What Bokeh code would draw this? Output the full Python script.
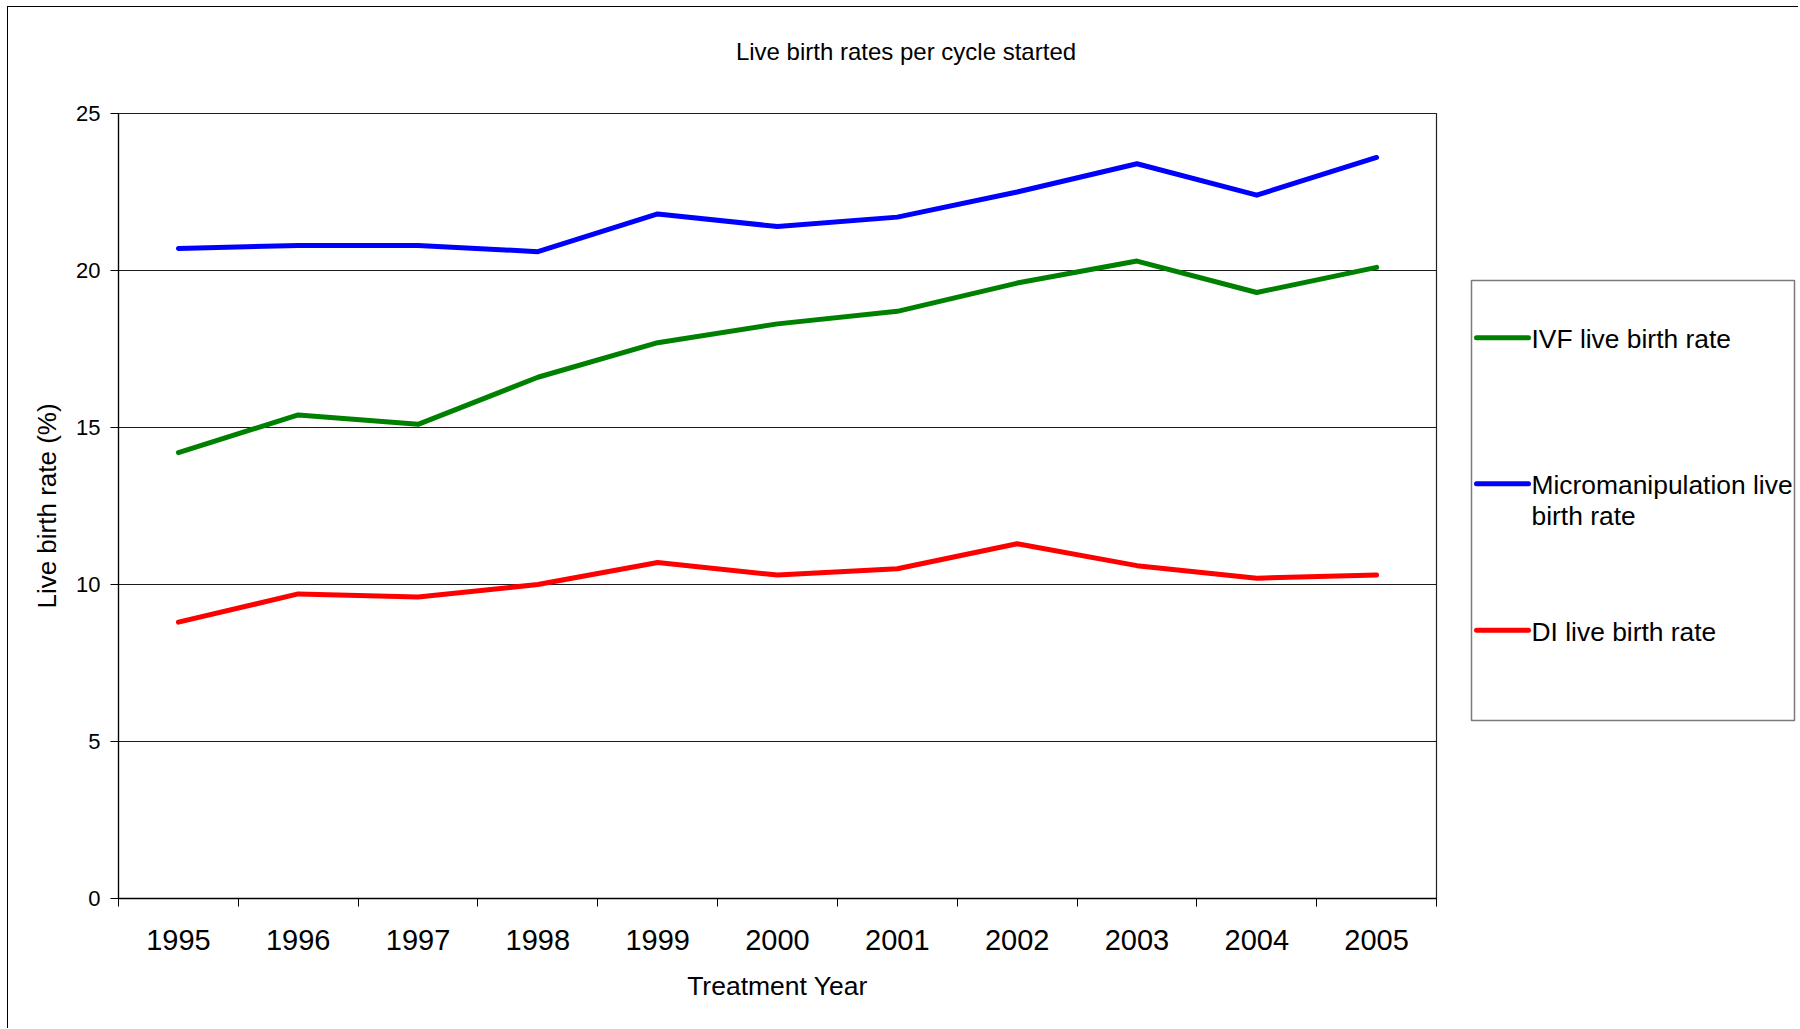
from bokeh.plotting import figure
from bokeh.layouts import row, column
from bokeh.models import Range1d, FixedTicker, Div
from bokeh.core.properties import value
from bokeh.embed import file_html
from bokeh.resources import INLINE

# ---- data ----
years = ["1995", "1996", "1997", "1998", "1999", "2000", "2001", "2002", "2003", "2004", "2005"]
ivf_rate = [14.2, 15.4, 15.1, 16.6, 17.7, 18.3, 18.7, 19.6, 20.3, 19.3, 20.1]
micro_rate = [20.7, 20.8, 20.8, 20.6, 21.8, 21.4, 21.7, 22.5, 23.4, 22.4, 23.6]
di_rate = [8.8, 9.7, 9.6, 10.0, 10.7, 10.3, 10.5, 11.3, 10.6, 10.2, 10.3]
series_names = ["IVF live birth rate", "Micromanipulation live birth rate", "DI live birth rate"]
legend_lines = [["IVF live birth rate"], ["Micromanipulation live", "birth rate"], ["DI live birth rate"]]
series_colors = ["#008000", "#0000FF", "#FF0000"]
y_ticks = [0, 5, 10, 15, 20, 25]
title_text = "Live birth rates per cycle started"
x_label = "Treatment Year"
y_label = "Live birth rate (%)"

FONT = "Liberation Sans"
TITLE_H = 90
H = 931
W1, W2 = 1450, 340
ML, MR, MT = 110, 22, 16
FRAME_H = 785
MB = H - MT - FRAME_H
LW = 5

# ---- title (spans the whole chart area) ----
title_div = Div(
    text=(f'<div style="font-family:\'{FONT}\',Arial,sans-serif; font-size:24px; line-height:28px; '
          f'color:#000; text-align:center; width:{W1 + W2}px; padding-top:31px; padding-left:6px; '
          f'box-sizing:border-box;">{title_text}</div>'),
    width=W1 + W2, height=TITLE_H, margin=0)

# ---- main plot ----
p = figure(width=W1, height=H, output_backend="svg", toolbar_location=None,
           x_range=Range1d(0, len(years)), y_range=Range1d(y_ticks[0], y_ticks[-1]),
           min_border_left=ML, min_border_right=MR, min_border_top=MT, min_border_bottom=MB,
           margin=0)
p.frame_align = False
p.background_fill_color = "white"
p.border_fill_color = "white"
p.outline_line_color = "#202020"
p.outline_line_width = 1.2

xs = [i + 0.5 for i in range(len(years))]
for vals, name, col in zip([ivf_rate, micro_rate, di_rate], series_names, series_colors):
    p.line(xs, vals, line_color=col, line_width=LW, line_join="round", line_cap="round")

# x axis: labels at category centres, tick marks at category boundaries
xa = p.xaxis[0]
xa.ticker = FixedTicker(ticks=xs, minor_ticks=list(range(len(years) + 1)))
xa.major_label_overrides = {x: y for x, y in zip(xs, years)}
xa.major_tick_out = 0
xa.major_tick_in = 0
xa.minor_tick_out = 8
xa.minor_tick_in = 0
xa.minor_tick_line_color = "black"
xa.axis_line_color = "black"
xa.axis_line_width = 1.3
xa.major_label_text_font = FONT
xa.major_label_text_font_size = "29px"
xa.major_label_text_color = "black"
xa.major_label_standoff = 23
xa.axis_label = x_label
xa.axis_label_text_font = FONT
xa.axis_label_text_font_size = "26.5px"
xa.axis_label_text_font_style = "normal"
xa.axis_label_text_color = "black"
xa.axis_label_standoff = 18

ya = p.yaxis[0]
yt = FixedTicker(ticks=y_ticks)
ya.ticker = yt
ya.major_tick_out = 8
ya.major_tick_in = 0
ya.minor_tick_line_color = None
ya.major_tick_line_color = "black"
ya.axis_line_color = "black"
ya.axis_line_width = 1.2
ya.major_label_text_font = FONT
ya.major_label_text_font_size = "22px"
ya.major_label_text_color = "black"
ya.major_label_standoff = 10
ya.axis_label = y_label
ya.axis_label_text_font = FONT
ya.axis_label_text_font_size = "26px"
ya.axis_label_text_font_style = "normal"
ya.axis_label_text_color = "black"
ya.axis_label_standoff = 11

p.xgrid.grid_line_color = None
p.ygrid.ticker = yt
p.ygrid.grid_line_color = "#1a1a1a"
p.ygrid.grid_line_width = 1.2

# ---- legend panel (separate figure whose frame is the legend box) ----
BOX_W, BOX_H = 323, 440
L2, T2 = 13, 183
leg = figure(width=W2, height=H, output_backend="svg", toolbar_location=None,
             x_range=Range1d(0, BOX_W), y_range=Range1d(BOX_H, 0),
             x_axis_type=None, y_axis_type=None,
             min_border_left=L2, min_border_right=W2 - L2 - BOX_W,
             min_border_top=T2, min_border_bottom=H - T2 - BOX_H, margin=0)
leg.frame_align = False
leg.xgrid.visible = False
leg.ygrid.visible = False
leg.outline_line_color = "#7a7a7a"
leg.outline_line_width = 1.5
leg.background_fill_color = "white"
leg.border_fill_color = "white"

key_x0, key_x1, text_x = 5, 57, 60
key_y = [57.3, 203.3, 349.7]
line_gap = 31
for ky, col, lines in zip(key_y, series_colors, legend_lines):
    leg.line([key_x0, key_x1], [ky, ky], line_color=col, line_width=LW, line_cap="round")
    leg.text(x=[text_x] * len(lines), y=[ky + 1.5 + line_gap * k for k in range(len(lines))], text=lines,
             text_font=value(FONT), text_font_size=value("26.4px"), text_color="black",
             text_baseline="middle", text_align="left")

layout = column(title_div, row(p, leg, spacing=0, margin=0), spacing=0, margin=(6, 0, 0, 7),
                styles={"border-left": "1px solid #000", "border-top": "1px solid #000"})

open("out.html", "w").write(file_html(layout, INLINE))
